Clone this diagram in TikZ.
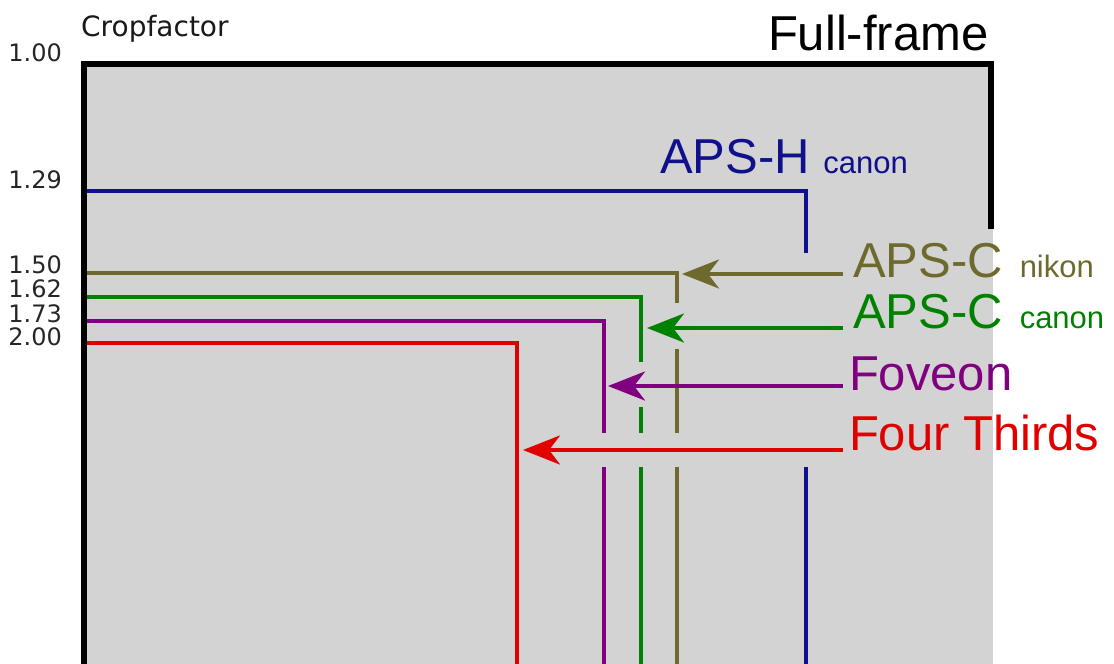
\documentclass[tikz,border=0pt]{standalone}
\usepackage{fontspec}
\setmainfont{Liberation Sans}
\newfontfamily\numfont{DejaVu Sans}
\usepackage{tikz}
\usetikzlibrary{arrows.meta}
\definecolor{framegray}{RGB}{211,211,211}
\definecolor{apshblue}{RGB}{16,16,140}
\definecolor{nikonolive}{RGB}{110,106,46}
\definecolor{canongreen}{RGB}{0,130,0}
\definecolor{foveonpurple}{RGB}{128,0,128}
\definecolor{fourred}{RGB}{225,0,0}

\begin{document}
\begin{tikzpicture}[x=1pt, y=-1pt, >={Stealth[length=37pt,width=29pt,inset=11pt]},
		sensor/.style={line width=3.5pt},
		pointer/.style={->, line width=4pt},
		big/.style={inner sep=0pt, outer xsep=10pt, anchor=base west, font=\fontsize{49}{55}\selectfont},
		num/.style={inner sep=0pt, anchor=base east, text=black!85, font=\numfont\fontsize{24}{26}\selectfont}]
			\useasboundingbox (0,0) rectangle (1114,664);
			\fill[framegray] (84,64) rectangle (993,664);

			\draw[sensor, apshblue] (84,191) -- (806,191) -- (806,253) (806,467) -- (806,664);
			\draw[sensor, nikonolive] (84,273) -- (677,273) -- (677,303) (677,349) -- (677,433) (677,467) -- (677,664);
			\draw[sensor, canongreen] (84,297) -- (641,297) -- (641,362) (641,407) -- (641,433) (641,467) -- (641,664);
			\draw[sensor, foveonpurple] (84,321) -- (604,321) -- (604,433) (604,467) -- (604,664);
			\draw[sensor, fourred] (84,343) -- (517,343) -- (517,664);

			\draw[line width=6pt] (84,664) -- (84,64) -- (991,64) -- (991,229);

			\coordinate (nikontip) at (682,274);
			\coordinate (canontip) at (647,328);
			\coordinate (foveontip) at (608,386);
			\coordinate (fourtip) at (523,450);

			\node[big] (fullframe) at (762,50) {\hspace{-4pt}Full-frame};
			\node[big, text=apshblue] (apsh) at (650,173) {APS-H {\fontsize{31}{31}\selectfont canon}};
			\node[big, text=nikonolive] (nikon) at (843,277) {APS-C\hspace{17pt}{\fontsize{31}{31}\selectfont nikon}};
			\node[big, text=canongreen] (canon) at (843,328) {APS-C\hspace{17pt}{\fontsize{31}{31}\selectfont canon}};
			\node[big, text=foveonpurple] (foveon) at (843,390) {\hspace{-4pt}Foveon};
			\node[big, text=fourred] (fourthirds) at (843,450) {\hspace{-4pt}Four Thirds};

			\draw[pointer, nikonolive] (nikon.west |- nikontip) -- (nikontip);
			\draw[pointer, canongreen] (canon.west |- canontip) -- (canontip);
			\draw[pointer, foveonpurple] (foveon.west |- foveontip) -- (foveontip);
			\draw[pointer, fourred] (fourthirds.west |- fourtip) -- (fourtip);

			\node[inner sep=0pt, anchor=base west, text=black!90, font=\numfont\fontsize{28}{30}\selectfont] (cropfactor) at (81,36) {Cropfactor};
			\foreach \v/\y in {1.00/61, 1.29/188, 1.50/273, 1.62/297, 1.73/322, 2.00/345}
				\node[num] (v\y) at (62,\y) {\v};
		\end{tikzpicture}
\end{document}
